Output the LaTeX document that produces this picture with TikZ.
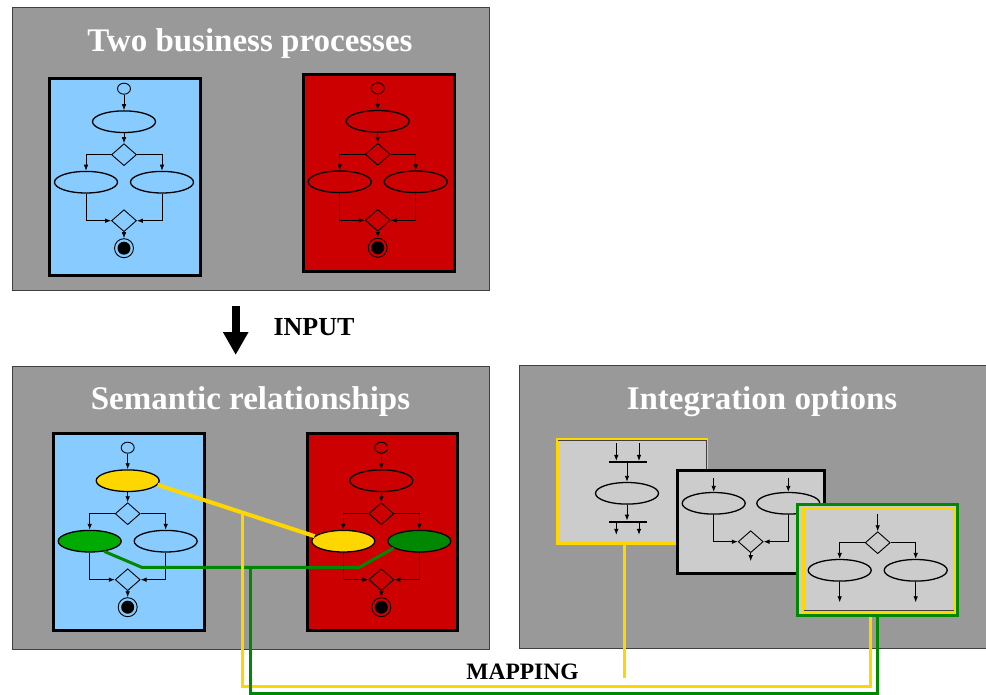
\documentclass[tikz,border=0pt]{standalone}
\usepackage{fontspec}
\setmainfont{Liberation Serif}
\usetikzlibrary{shapes.geometric,arrows.meta,calc}
\definecolor{panelgray}{HTML}{999999}
\definecolor{skyb}{HTML}{88CCFF}
\definecolor{procred}{HTML}{CC0000}
\definecolor{gold}{HTML}{FFD700}
\definecolor{lgreen}{HTML}{00AA00}
\definecolor{dgreen}{HTML}{008800}
\definecolor{lgray}{HTML}{CCCCCC}
\tikzset{
  panel/.style={draw=black!75, line width=1pt, fill=panelgray, inner sep=0},
  ptitle/.style={text=white, font=\fontsize{33}{40}\selectfont\bfseries, anchor=base, inner sep=0},
  blabel/.style={text=black, font=\fontsize{#1}{30}\selectfont\bfseries, anchor=base, inner sep=0},
  procbox/.style={draw=black, line width=3pt, inner sep=0, minimum width=150.4pt, minimum height=197pt},
  act/.style={ellipse, draw=black, line width=1.3pt, minimum width=63pt, minimum height=21.6pt, inner sep=0},
  dec/.style={diamond, draw=black, line width=0.9pt, minimum width=25pt, minimum height=22pt, inner sep=0},
  startn/.style={ellipse, draw=black, line width=0.9pt, minimum width=13pt, minimum height=11pt, inner sep=0},
  endring/.style={circle, draw=black, line width=0.9pt, minimum size=19pt, inner sep=0},
  enddot/.style={circle, fill=black, minimum size=13pt, inner sep=0},
  flowarr/.style={draw=black, line width=0.85pt, -{Latex[length=6pt,width=4.6pt]}},
  barline/.style={fill=black, inner sep=0, minimum width=37.7pt, minimum height=1.8pt},
  optbox/.style={fill=lgray, inner sep=0, line width=3pt},
  mapline/.style={line width=3pt},
  pics/flow/.style n args={3}{code={
    \node[startn] (-s) at (0,0) {};
    \node[act, fill=#1] (-e1) at (0,33) {};
    \node[dec] (-d1) at (0,66) {};
    \node[act, fill=#2] (-e2) at (-38,93.5) {};
    \node[act, fill=#3] (-e3) at (38,93.5) {};
    \node[dec] (-d2) at (0,132) {};
    \node[endring] (-f) at (0,159.5) {};
    \node[enddot] (-fd) at (0,159.5) {};
    \draw[flowarr] (-s) -- (-e1);
    \draw[flowarr] (-e1) -- (-d1);
    \draw[flowarr] (-d1.west) -| (-e2.north);
    \draw[flowarr] (-d1.east) -| (-e3.north);
    \draw[flowarr] (-e2.south) |- (-d2.west);
    \draw[flowarr] (-e3.south) |- (-d2.east);
    \draw[flowarr] (-d2) -- (-f);
  }}
}
\begin{document}
\begin{tikzpicture}[x=1pt,y=-1pt]
\useasboundingbox (0,0) rectangle (986,695);
% panels
\node[panel, minimum width=477.3pt, minimum height=283pt] (p1) at (250.85,148.7) {};
\node[panel, minimum width=477pt, minimum height=283pt] (p2) at (251,508) {};
\node[panel, minimum width=468pt, minimum height=282.7pt] (p3) at (753.8,507.15) {};
\node[ptitle] (t1) at (250,52) {Two business processes};
\node[ptitle] (t2) at (250.5,409) {Semantic relationships};
\node[ptitle] (t3) at (762,409) {Integration options};
% top processes
\node[procbox, fill=skyb] (tbb) at (125,176.7) {};
\node[procbox, fill=procred] (trb) at (379,173.3) {};
\pic (tb) at (124,88.7) {flow={none}{none}{none}};
\pic (tr) at (377.7,88.3) {flow={none}{none}{none}};
% input arrow
\coordinate (inA) at (235.7,305.7);
\coordinate (inB) at (235.7,355);
\draw[line width=8pt, -{Triangle[length=23pt,width=24pt]}] (inA) -- (inB);
\node[blabel=26, anchor=base west] (inp) at (273.3,335) {INPUT};
% semantic relationships
\node[procbox, fill=skyb, minimum height=196.7pt] (sbb) at (129,532.2) {};
\node[procbox, fill=procred, minimum height=196.7pt] (srb) at (382.7,532.2) {};
\pic (sb) at (127.7,447.7) {flow={gold}{lgreen}{none}};
\pic (sr) at (381.3,447.7) {flow={none}{gold}{dgreen}};
% integration options: yellow box
\node[optbox, draw=gold, minimum width=149.3pt, minimum height=103.7pt] (ioy) at (632.15,491.65) {};
\draw[black!75, line width=0.8pt] ($(ioy.north west)+(2,2.2)$) -- ($(ioy.north east)+(-1.8,2.2)$) -- ($(ioy.south east)+(-1.8,-1.5)$);
\node[barline] (yb1) at (627.8,462) {};
\node[barline] (yb2) at (627.8,521.7) {};
\node[act] (ioy-e) at (627,493.3) {};
\draw[flowarr] ($(yb1.north)+(-11.5,-17.5)$) -- ($(yb1.north)+(-11.5,0)$);
\draw[flowarr] ($(yb1.north)+(11.2,-17.5)$) -- ($(yb1.north)+(11.2,0)$);
\draw[flowarr] ($(yb1.south)+(-0.8,0)$) -- (ioy-e.north);
\draw[flowarr] (ioy-e.south) -- ($(yb2.north)+(-0.8,0)$);
\draw[flowarr] ($(yb2.south)+(-11.5,0)$) -- ($(yb2.south)+(-11.5,12)$);
\draw[flowarr] ($(yb2.south)+(11.2,0)$) -- ($(yb2.south)+(11.2,12)$);
% black box
\node[optbox, draw=black, minimum width=147.6pt, minimum height=103pt] (iob) at (751,522) {};
\node[act] (iob-e1) at (713.7,503.3) {};
\node[act] (iob-e2) at (788.3,503.3) {};
\node[dec] (iob-d) at (750.7,541.7) {};
\draw[flowarr] ($(iob-e1.north)+(0,-14)$) -- (iob-e1.north);
\draw[flowarr] ($(iob-e2.north)+(0,-14)$) -- (iob-e2.north);
\draw[flowarr] (iob-e1.south) |- (iob-d.west);
\draw[flowarr] (iob-e2.south) |- (iob-d.east);
\draw[flowarr] (iob-d.south) -- ($(iob-d.south)+(0,8)$);
% green box
\node[optbox, draw=dgreen, minimum width=160pt, minimum height=111.6pt] (iog) at (877.8,560) {};
\node[optbox, draw=gold, minimum width=150.7pt, minimum height=104pt] (iogy) at (878.85,560.2) {};
\draw[black!75, line width=0.8pt] ($(iogy.south west)+(1.5,-3.4)$) -- ($(iogy.south east)+(-1.5,-3.4)$);
\node[dec] (iog-d) at (877.7,542.7) {};
\node[act] (iog-e1) at (839.7,570.3) {};
\node[act] (iog-e2) at (915.7,570.3) {};
\draw[flowarr] ($(iog-d.north)+(0,-17)$) -- (iog-d.north);
\draw[flowarr] (iog-d.west) -| (iog-e1.north);
\draw[flowarr] (iog-d.east) -| (iog-e2.north);
\draw[flowarr] (iog-e1.south) -- ($(iog-e1.south)+(0,20.5)$);
\draw[flowarr] (iog-e2.south) -- ($(iog-e2.south)+(0,20.5)$);
% mapping connectors
\draw[gold, line width=4pt] (sb-e1.-8) -- coordinate[pos=0.544] (yj) (sr-e2.170);
\coordinate (gA) at (141.7,567.3);
\coordinate (gB) at (359.3,567.3);
\coordinate (gj) at (250.3,567.3);
\draw[dgreen, mapline] (sb-e2.-35) -- (gA) -- (gB) -- (sr-e3.195);
\coordinate (ycorner) at (870.3,686);
\coordinate (gcorner) at (877.7,693);
\draw[gold, mapline] (yj) |- (ycorner) -- (ycorner |- iog.south);
\draw[dgreen, mapline] (gj) |- (gcorner) -- (gcorner |- iog.south);
\coordinate (yend) at (624,678);
\draw[gold, mapline] (yend |- ioy.south) -- (yend);
\node[blabel=23.5] (map) at (522.5,679) {MAPPING};
\end{tikzpicture}
\end{document}
